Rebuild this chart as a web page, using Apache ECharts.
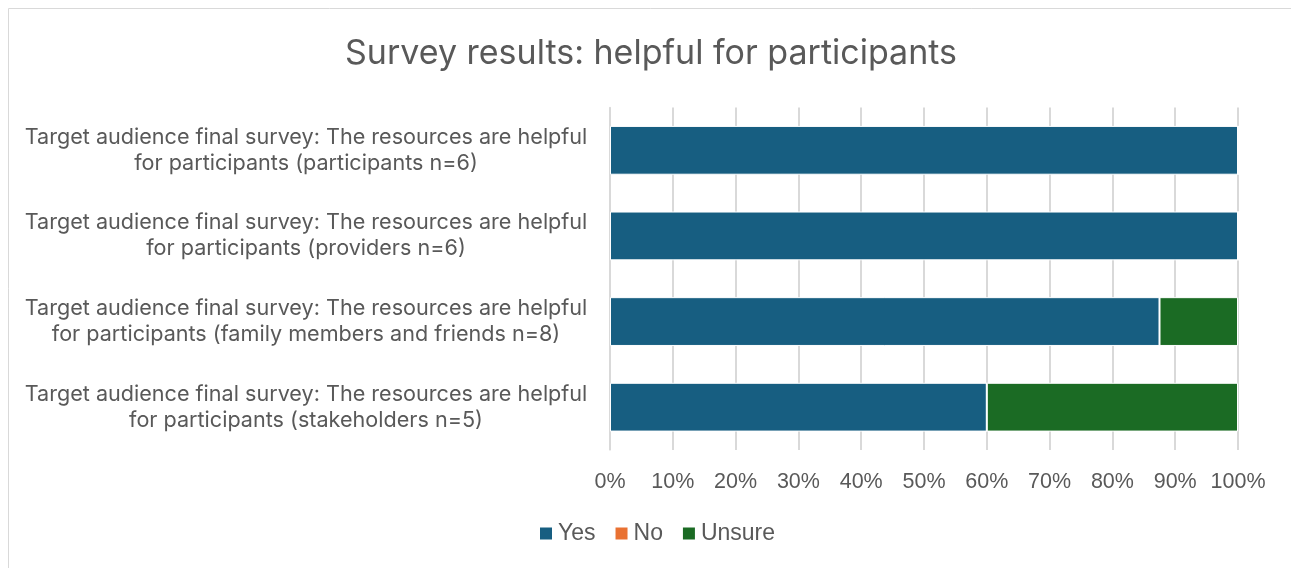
<!DOCTYPE html>
<html>
<head>
<meta charset="utf-8">
<script src="https://cdn.jsdelivr.net/npm/echarts@6/dist/echarts.min.js"></script>
<style>
  html, body { margin: 0; padding: 0; background: #fff; }
  #chart { width: 1291px; height: 568px; }
</style>
</head>
<body>
<div id="chart"></div>
<script>
// Survey groups, top to bottom
const categories = [
  'Target audience final survey: The resources are helpful for participants (participants n=6)',
  'Target audience final survey: The resources are helpful for participants (providers n=6)',
  'Target audience final survey: The resources are helpful for participants (family members and friends n=8)',
  'Target audience final survey: The resources are helpful for participants (stakeholders n=5)'
];
// Share of answers per group, in percent
const yesValues = [100, 100, 87.5, 60];
const noValues = [0, 0, 0, 0];
const unsureValues = [0, 0, 12.5, 40];

const seriesNames = ['Yes', 'No', 'Unsure'];
const seriesColors = ['#175E81', '#E97132', '#1B6B24'];
const seriesValues = [yesValues, noValues, unsureValues];

const textColor = '#595959';
const fontFamily = 'Inter, "Liberation Sans", Arial, sans-serif';
const plainFont = '"Liberation Sans", Arial, sans-serif';

// Split each category label after the word "helpful"
function wrapLabel(s) {
  const i = s.indexOf('helpful ');
  return i < 0 ? s : s.slice(0, i + 7) + '\n' + s.slice(i + 8);
}

const chart = echarts.init(document.getElementById('chart'));
chart.setOption({
  animation: false,
  textStyle: { fontFamily: fontFamily },
  graphic: [{
    type: 'rect',
    shape: { x: 8.5, y: 8.5, width: 1400, height: 700 },
    style: { fill: 'none', stroke: '#d9d9d9', lineWidth: 1 },
    silent: true
  }],
  title: {
    text: 'Survey results: helpful for participants',
    left: 646,
    textAlign: 'center',
    top: 32,
    textStyle: { fontSize: 34, fontWeight: 'normal', color: textColor, fontFamily: fontFamily }
  },
  legend: {
    data: seriesNames,
    left: 538,
    top: 522,
    padding: 0,
    itemWidth: 14,
    itemHeight: 14,
    itemGap: 18,
    icon: 'rect',
    textStyle: { fontSize: 23, color: textColor, fontFamily: plainFont, padding: [0, 0, 0, 0] }
  },
  grid: { left: 610, right: 53, top: 107.5, bottom: 118, containLabel: false },
  xAxis: {
    type: 'value',
    min: 0,
    max: 100,
    interval: 10,
    axisLine: { show: false },
    axisTick: { show: false },
    axisLabel: { formatter: '{value}%', fontSize: 21.5, color: textColor, fontFamily: plainFont, margin: 21 },
    splitLine: { lineStyle: { color: '#d9d9d9', width: 2 } }
  },
  yAxis: {
    type: 'category',
    inverse: true,
    data: categories,
    axisLine: { show: true, lineStyle: { color: '#d9d9d9', width: 1.5 } },
    axisTick: { show: false },
    axisLabel: {
      formatter: wrapLabel,
      align: 'center',
      margin: 304,
      fontSize: 21.6,
      lineHeight: 26,
      color: textColor
    }
  },
  series: seriesNames.map((name, k) => ({
    name: name,
    type: 'bar',
    stack: 'total',
    data: seriesValues[k],
    barCategoryGap: '43%',
    itemStyle: { color: seriesColors[k], borderColor: '#ffffff', borderWidth: 1 }
  }))
});
</script>
</body>
</html>
